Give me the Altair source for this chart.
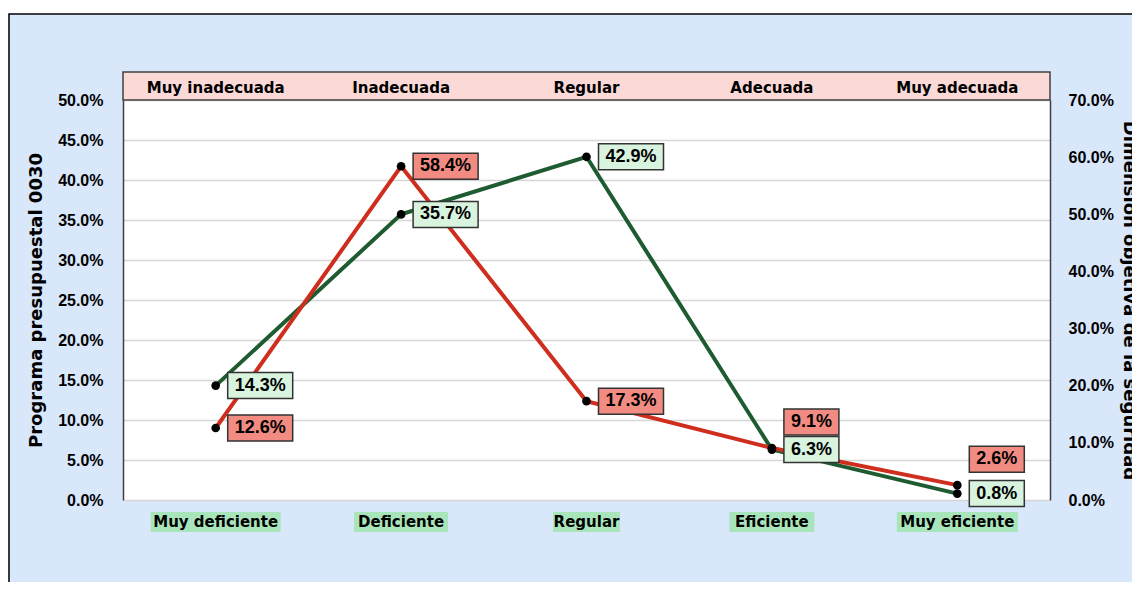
import altair as alt
import pandas as pd

# ---------------- data ----------------
categorias_inferiores = ["Muy deficiente", "Deficiente", "Regular", "Eficiente", "Muy eficiente"]
categorias_superiores = ["Muy inadecuada", "Inadecuada", "Regular", "Adecuada", "Muy adecuada"]
programa_0030 = [14.3, 35.7, 42.9, 6.3, 0.8]          # left axis (%)
dimension_objetiva = [12.6, 58.4, 17.3, 9.1, 2.6]     # right axis (%)
ticks_izquierda = [0, 5, 10, 15, 20, 25, 30, 35, 40, 45, 50]
ticks_derecha = [0, 10, 20, 30, 40, 50, 60, 70]

# ---------------- style ----------------
W, H = 927, 400
LEFT_MAX, RIGHT_MAX = 50, 70
BG = "#d9e7fb"
PINK = "#fad9d7"
GREEN_BG = "#a9e5bb"
GREEN = "#1e5b30"
RED = "#cf2d1e"
GREEN_BOX = "#d8f3de"
RED_BOX = "#f28b82"
BOX_STROKE = "#333333"
CAT_FONT = "DejaVu Sans"
NUM_FONT = "Liberation Sans"

df = pd.DataFrame({
    "i": list(range(len(categorias_inferiores))),
    "inferior": categorias_inferiores,
    "superior": categorias_superiores,
    "prog": programa_0030,
    "dim": dimension_objetiva,
})
df["prog_txt"] = [f"{v:.1f}%" for v in programa_0030]
df["dim_txt"] = [f"{v:.1f}%" for v in dimension_objetiva]

one = pd.DataFrame({"k": [0]})

x_enc = alt.X("i:Q", scale=alt.Scale(domain=[-0.5, 4.5]), axis=None)
y_scale = alt.Scale(domain=[0, LEFT_MAX])
left_axis = alt.Axis(
    values=ticks_izquierda,
    labelExpr="format(datum.value, '.1f') + '%'",
    labelFont=NUM_FONT, labelFontWeight="bold", labelFontSize=16, labelColor="black",
    labelPadding=20, ticks=False, tickSize=0,
    domain=True, domainColor="#404040", domainWidth=1.5,
    grid=True, gridColor="#d6d6d6", gridWidth=1.5,
    title="Programa presupuestal 0030",
    titleFont=CAT_FONT, titleFontSize=18, titleFontWeight="bold", titleColor="black",
    titlePadding=12,
)


def y_left(field):
    return alt.Y(f"{field}:Q", scale=y_scale, axis=left_axis)


base = alt.Chart(df).encode(x=x_enc)
base_red = base.transform_calculate(dim_l=f"datum.dim * {LEFT_MAX} / {RIGHT_MAX}")

# ---------------- decorations ----------------
white_strip = alt.Chart(one).mark_rect(fill="white").encode(
    x=alt.value(-120), x2=alt.value(1100), y=alt.value(-95), y2=alt.value(-86)
)
frame = alt.Chart(one).mark_rect(fillOpacity=0, stroke="black", strokeWidth=1.5).encode(
    x=alt.value(-114), x2=alt.value(1200), y=alt.value(-86), y2=alt.value(700)
)
pink_band = alt.Chart(one).mark_rect(fill=PINK, stroke="#404040", strokeWidth=1.5).encode(
    x=alt.value(0), x2=alt.value(W), y=alt.value(-28), y2=alt.value(0)
)
top_text = base.mark_text(
    font=CAT_FONT, fontWeight="bold", fontSize=15, color="black", baseline="middle"
).encode(y=alt.value(-12), text="superior:N")

bottom_bg = base.transform_calculate(w="length(datum.inferior) * 9 + 4").mark_tick(
    orient="horizontal", thickness=20, color=GREEN_BG, opacity=1
).encode(y=alt.value(H + 22), size=alt.Size("w:Q", scale=None, legend=None))
bottom_text = base.mark_text(
    font=CAT_FONT, fontWeight="bold", fontSize=15, color="black", baseline="middle"
).encode(y=alt.value(H + 22), text="inferior:N")

# ---------------- series ----------------
green_line = base.mark_line(color=GREEN, strokeWidth=4).encode(y=y_left("prog"))
red_line = base_red.mark_line(color=RED, strokeWidth=4).encode(y=y_left("dim_l"))
green_pts = base.mark_circle(size=75, color="black", opacity=1).encode(y=y_left("prog"))
red_pts = base_red.mark_circle(size=75, color="black", opacity=1).encode(y=y_left("dim_l"))


def label_layers(chart, field, txt, fill, cond, w, dy):
    sel = chart.transform_filter(cond)
    box = sel.mark_rect(
        fill=fill, stroke=BOX_STROKE, strokeWidth=1.5,
        xOffset=12, x2Offset=12 + w, yOffset=dy - 13, y2Offset=dy + 13,
    ).encode(y=y_left(field), x2=alt.X2("i:Q"), y2=alt.Y2(f"{field}:Q"))
    text = sel.mark_text(
        font=NUM_FONT, fontWeight="bold", fontSize=18, color="black",
        align="center", baseline="middle", dx=12 + w / 2, dy=dy,
    ).encode(y=y_left(field), text=f"{txt}:N")
    return [box, text]


labels = []
labels += label_layers(base, "prog", "prog_txt", GREEN_BOX, "datum.i < 3", 65, 0)
labels += label_layers(base, "prog", "prog_txt", GREEN_BOX, "datum.i >= 3", 55, 0)
labels += label_layers(base_red, "dim_l", "dim_txt", RED_BOX, "datum.i < 3", 65, 0)
labels += label_layers(base_red, "dim_l", "dim_txt", RED_BOX, "datum.i >= 3", 55, -26)

main = alt.layer(
    white_strip, frame, pink_band, top_text, bottom_bg, bottom_text,
    green_line, red_line, green_pts, red_pts, *labels,
)

right_axis_layer = base.mark_circle(opacity=0).encode(
    y=alt.Y(
        "dim:Q",
        scale=alt.Scale(domain=[0, RIGHT_MAX]),
        axis=alt.Axis(
            orient="right",
            values=ticks_derecha,
            labelExpr="format(datum.value, '.1f') + '%'",
            labelFont=NUM_FONT, labelFontWeight="bold", labelFontSize=16, labelColor="black",
            labelPadding=18, ticks=False, tickSize=0,
            domain=True, domainColor="#404040", domainWidth=1.5,
            grid=False,
            title="Dimension objetiva de la seguridad",
            titleFont=CAT_FONT, titleFontSize=18, titleFontWeight="bold", titleColor="black",
            titlePadding=6,
        ),
    )
)

chart = (
    alt.layer(main, right_axis_layer)
    .resolve_scale(y="independent")
    .properties(
        width=W, height=H,
        autosize=alt.AutoSizeParams(type="none"),
        padding={"left": 115, "top": 92, "right": 82, "bottom": 82},
        background=BG,
    )
    .configure_view(fill="white", stroke="transparent")
)

chart.save("out.html", embed_options={"renderer": "svg", "actions": False})
